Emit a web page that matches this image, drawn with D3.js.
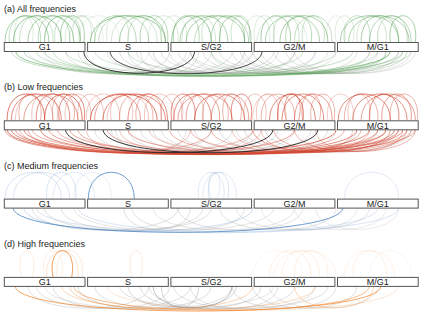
<!DOCTYPE html>
<html><head><meta charset="utf-8">
<script src="https://cdn.jsdelivr.net/npm/d3@7"></script>
<style>body{margin:0;background:#fff}svg{display:block}</style>
</head><body>
<script>
// Phases along the cycle (0-100 units, 20 per phase)
const phases = ["G1","S","S/G2","G2/M","M/G1"];
const panelTitles = ["(a) All frequencies","(b) Low frequencies","(c) Medium frequencies","(d) High frequencies"];
const panelColors = ["#55a155","#d2432d","#3f7cc2","#f28022"];

// above links: [from, to, opacity]
const aboveA = [[0.5,11,0.5],[1.5,9,0.35],[2.5,14,0.6],[4,12,0.3],[6,17,0.5],[8.5,16,0.4],[10,18.5,0.6],[12.5,18.5,0.3],[14,19.4,0.5],[3,7,0.2],[15,22,0.2],[16,24,0.15],[17,21,0.2],
 [21,39,0.55],[22,32,0.4],[23,35,0.35],[25,30,0.2],[28,39,0.5],[30,38,0.3],[33,39.5,0.4],[26,37,0.25],[18,28,0.15],[35,42,0.2],
 [40.5,50,0.6],[41,47,0.4],[42.5,54,0.45],[44,58,0.5],[46,59,0.35],[48,52,0.3],[50,58,0.4],[52,59.5,0.5],[55,59,0.3],[43,51,0.25],[38,44,0.2],
 [62,69,0.5],[63,76,0.45],[65,71,0.3],[66.5,78,0.5],[68,74,0.4],[70,79,0.35],[60.5,65,0.2],[58,64,0.2],[72,77,0.3],[61,73,0.2],
 [81,95,0.5],[82,88,0.35],[83,97.5,0.45],[86,95,0.5],[88,98,0.4],[90,97,0.35],[93,99,0.5],[80,84,0.2],[85,92,0.25],[78,82,0.15]];
const aboveB = [[1,10,0.7],[2,14,0.6],[4,9,0.4],[5,18,0.5],[8,16,0.6],[10,19,0.7],[12,17,0.4],[13.5,19.5,0.6],[3,12,0.3],[15,21,0.3],[7,13,0.3],
 [21,37,0.7],[22,33,0.5],[24,39,0.6],[26,31,0.3],[28,36,0.4],[30,39.5,0.6],[32,38,0.4],[25,35,0.3],[18,24,0.3],[34,41,0.3],[20,28,0.3],
 [40.5,46,0.6],[41,50,0.6],[42,55,0.5],[44,52,0.5],[46,58,0.6],[48,54,0.4],[50,59,0.5],[53,57,0.4],[55,59.5,0.6],[43,48,0.3],[38,43,0.3],
 [61,66,0.3],[62,70,0.4],[64,75,0.6],[66,72,0.7],[67,77,0.6],[68,71,0.5],[70,79,0.5],[72,76,0.4],[58,63,0.3],[60,68,0.25],[74,79.5,0.4],
 [80.5,93,0.6],[82,90,0.4],[84,97,0.6],[86,99,0.5],[88,95,0.6],[91,98,0.5],[93,99.5,0.4],[78,84,0.25],[83,88,0.3]];
const aboveC = [[0.5,14,0.2],[2.5,16,0.2],[10.5,17.5,0.2],[12,22,0.15],[17,26,0.12],[20.5,31.5,0.75],
 [47,53,0.15],[49.5,54,0.2],[50,51.5,0.15],[48,56,0.15],[82,95,0.15]];
const aboveD = [[4.5,7,0.15],[10,14,0.12],[12,16.5,0.75],[10.5,18,0.2],[13,19,0.15],[31,33,0.15],
 [64,74,0.12],[67,76,0.12],[70,78,0.12],[65,80,0.1],[60,72,0.08],[82,94,0.1],[84,92,0.1],[88,98,0.08]];

// below links: [from, to, opacity, kind] kind 0=gray,1=dark,2=colored
const belowA = [[19.4,46,0.9,1],[25.7,62.2,0.8,1],
 [3,93,0.6,2],[5,96,0.4,2],[8,90,0.3,2],[2,80,0.3,2],[10,84,0.35,2],[12,72,0.3,2],[15,98,0.3,2],[22,93,0.25,2],[30,95,0.3,2],[50,92,0.3,2],[45,88,0.25,2],[60,97,0.3,2],
 [18,40,0.3,0],[20,44,0.3,0],[25,55,0.3,0],[28,60,0.35,0],[32,65,0.3,0],[35,70,0.3,0],[38,75,0.3,0],[30,50,0.3,0],[33,47,0.3,0],[36,58,0.4,0],[40,66,0.3,0],[42,78,0.3,0],[45,70,0.3,0],[48,80,0.3,0],[50,75,0.3,0],[55,85,0.3,0],[58,90,0.3,0],[62,92,0.3,0],[65,95,0.3,0],[68,98,0.25,0],[70,99,0.3,0],[52,96,0.3,0],[57,88,0.35,0],[15,45,0.25,0],[10,35,0.2,0],[6,60,0.2,0]];
const belowB = [[15,64.8,0.9,1],[24,75.6,0.9,1],
 [1,80,0.7,2],[2,92,0.6,2],[3,96,0.5,2],[5,88,0.6,2],[7,99,0.4,2],[9,85,0.6,2],[11,95,0.5,2],[13,90,0.4,2],[0.5,70,0.5,2],[4,60,0.4,2],[6,50,0.4,2],[16,94,0.5,2],[18,82,0.4,2],[25,92,0.4,2],[30,97,0.5,2],[35,90,0.3,2],[40,86,0.4,2],[45,98,0.4,2],[50,95,0.4,2],[55,88,0.3,2],[60,93,0.5,2],[65,97,0.4,2],[70,99,0.4,2],[62,84,0.3,2],[75,96,0.3,2],[20,45,0.3,2],[28,62,0.3,2],
 [22,50,0.3,0],[26,55,0.3,0],[30,60,0.3,0],[33,66,0.3,0],[36,70,0.3,0],[38,74,0.3,0],[42,78,0.3,0],[46,80,0.3,0],[52,85,0.3,0],[56,90,0.3,0],[58,94,0.35,0],[63,98,0.35,0],[27,44,0.3,0]];
const belowC = [[2.4,81.6,0.75,2],[5,60,0.25,2],[8,95,0.2,2],[18,90,0.2,2],
 [7,42,0.3,0],[10,50,0.3,0],[14,48,0.3,0],[17,65,0.25,0],[29,45,0.3,0],[31,58,0.3,0],[36,70,0.25,0],[42,72,0.3,0],[52,80,0.3,0],[56,88,0.25,0],[62,85,0.2,0],[70,92,0.2,0],[75,95,0.2,0]];
const belowD = [[2.9,90.8,0.7,2],[16,60,0.35,2],[17,88,0.5,2],[14,75,0.3,2],[25,95,0.2,2],[70,89,0.3,2],
 [6,35,0.3,0],[8,45,0.3,0],[12,40,0.3,0],[18,50,0.35,0],[22,55,0.3,0],[30,56,0.4,0],[33,62,0.35,0],[38,47,0.4,0],[35,70,0.3,0],[41,75,0.3,0],[45,66,0.3,0],[55,80,0.3,0],[60,85,0.3,0],[64,90,0.25,0],[10,65,0.25,0],[28,78,0.3,0],[36,55,0.6,0]];

const aboveSets = [aboveA, aboveB, aboveC, aboveD];
const belowSets = [belowA, belowB, belowC, belowD];

const W = 423, H = 317;
const svg = d3.select("body").append("svg").attr("width", W).attr("height", H);
const x = d3.scaleLinear().domain([0, 100]).range([3, 419.5]);
const boxH = 9;
const font = "'Liberation Sans', Arial, Helvetica, sans-serif";

panelTitles.forEach((title, i) => {
  const top = 42 + i * 78.3;
  const bot = top + boxH;
  const g = svg.append("g");
  const col = panelColors[i];

  g.append("text").attr("x", 4).attr("y", top - 30).text(title)
    .attr("font-family", font).attr("font-size", 9).attr("fill", "#222");

  const below = belowSets[i].slice().sort((a, b) => a[3] === 1 ? 1 : (b[3] === 1 ? -1 : a[3] - b[3]));
  g.selectAll("path.below").data(below).join("path")
    .attr("d", d => {
      const xa = x(d[0]), xb = x(d[1]);
      const h = 28 + Math.abs(xb - xa) * 0.015;
      return `M${xa},${bot} C${xa},${bot + h} ${xb},${bot + h} ${xb},${bot}`;
    })
    .attr("fill", "none")
    .attr("stroke", d => d[3] === 1 ? "#222" : d[3] === 2 ? col : "#9a9a9a")
    .attr("stroke-opacity", d => d[2])
    .attr("stroke-width", 1);

  g.selectAll("path.above").data(aboveSets[i]).join("path")
    .attr("d", d => {
      const xa = x(d[0]), xb = x(d[1]);
      const w = Math.abs(xb - xa);
      const k = Math.max(0, 12 - w * 0.3);
      const h = 35;
      return `M${xa},${top} C${xa - k},${top - h} ${xb + k},${top - h} ${xb},${top}`;
    })
    .attr("fill", "none")
    .attr("stroke", col)
    .attr("stroke-opacity", d => d[2])
    .attr("stroke-width", 1);

  phases.forEach((p, j) => {
    const x0 = x(j * 20) + 1.3, x1 = x((j + 1) * 20) - 1.3;
    g.append("rect").attr("x", x0).attr("y", top + 0.5).attr("width", x1 - x0).attr("height", boxH)
      .attr("fill", "#fff").attr("stroke", "#555").attr("stroke-width", 1);
    g.append("text").attr("x", (x0 + x1) / 2).attr("y", top + 8.3).text(p)
      .attr("text-anchor", "middle").attr("font-family", font).attr("font-size", 9).attr("fill", "#222");
  });
});
</script>
</body></html>
